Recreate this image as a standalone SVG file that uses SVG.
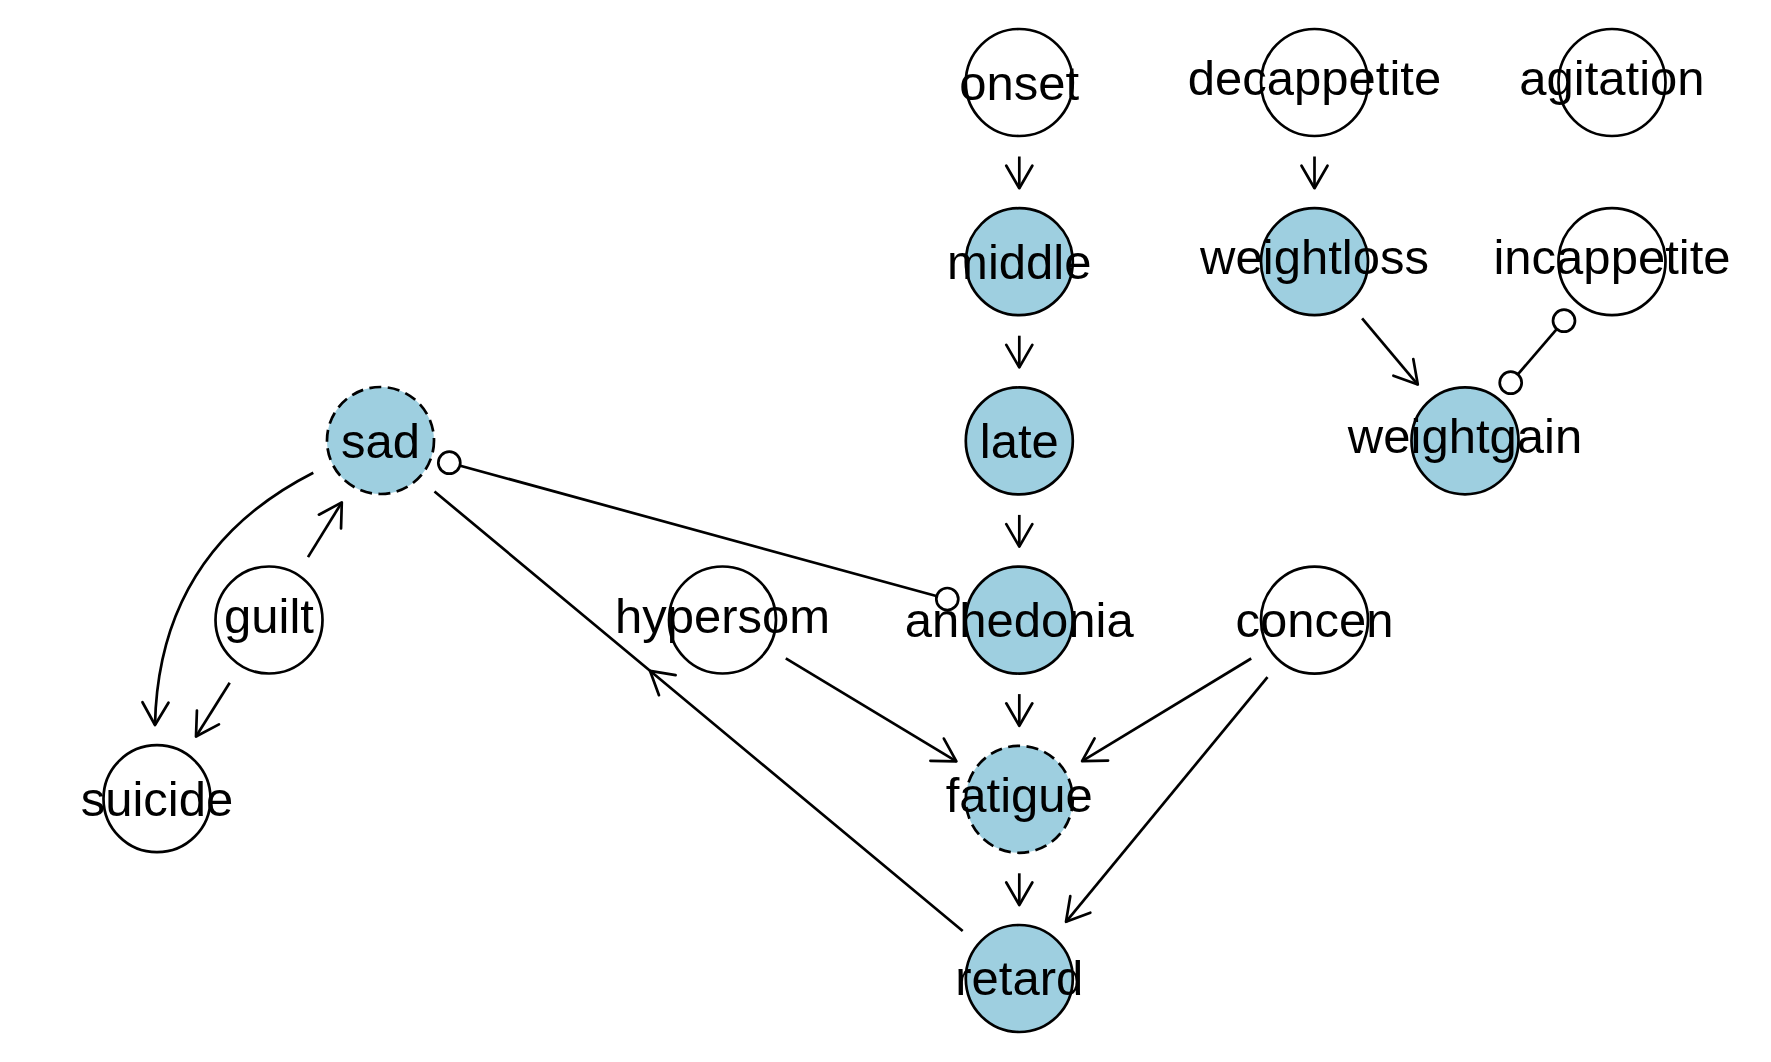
<svg xmlns="http://www.w3.org/2000/svg" width="1771" height="1062" viewBox="0 0 1771 1062">
<style>
.n circle{stroke:#000;stroke-width:2.7}
.obs{fill:#fff}
.lat{fill:#9ECFE0}
.dash{stroke-dasharray:12 6.5}
.n text{font-family:"Liberation Sans",Arial,sans-serif;font-size:49px;text-anchor:middle;fill:#000}
.e{fill:none;stroke:#000;stroke-width:2.7}
.a{marker-end:url(#arr)}
.o{fill:#fff;stroke:#000;stroke-width:2.7}
</style>
<defs>
<marker id="arr" markerUnits="userSpaceOnUse" markerWidth="60" markerHeight="60" viewBox="-30 -30 60 60" refX="0" refY="0" orient="auto" overflow="visible">
<path d="M -22.5 -13 L 0 0 L -22.5 13" fill="none" stroke="#000" stroke-width="2.7" stroke-linecap="round" stroke-linejoin="round"/>
</marker>
</defs>
<rect width="1771" height="1062" fill="#fff"/>
<g id="connectors">
<line class="e a" x1="1019.3" y1="156.5" x2="1019.3" y2="188.2"/>
<line class="e a" x1="1019.3" y1="335.7" x2="1019.3" y2="367.4"/>
<line class="e a" x1="1019.3" y1="514.9" x2="1019.3" y2="546.6"/>
<line class="e a" x1="1019.3" y1="694.1" x2="1019.3" y2="725.8"/>
<line class="e a" x1="1019.3" y1="873.3" x2="1019.3" y2="905"/>
<line class="e a" x1="1314.5" y1="156.5" x2="1314.5" y2="188.2"/>
<line class="e a" x1="1362.1" y1="318.3" x2="1417.8" y2="384.6"/>
<line class="e a" x1="308" y1="557.1" x2="341.8" y2="502.4"/>
<line class="e a" x1="229.7" y1="682.7" x2="196" y2="736.5"/>
<line class="e a" x1="785.8" y1="658.3" x2="956.4" y2="761.3"/>
<line class="e a" x1="1251.2" y1="658.5" x2="1082.1" y2="761.2"/>
<line class="e a" x1="1267.5" y1="677.2" x2="1066" y2="921.8"/>
<path class="e a" d="M 313.3 472.7 C 240 510, 158 580, 155 725"/>
<path class="e" d="M 962.7 931 L 650 670.8 L 434.5 491.5" marker-mid="url(#arr)"/>
<line class="e" x1="449.3" y1="462.7" x2="947.3" y2="599"/>
<circle class="o" cx="449.3" cy="462.7" r="11"/>
<circle class="o" cx="947.3" cy="599" r="11"/>
<line class="e" x1="1564" y1="320.7" x2="1510.7" y2="382.7"/>
<circle class="o" cx="1564" cy="320.7" r="11"/>
<circle class="o" cx="1510.7" cy="382.7" r="11"/>
</g>
<g id="onset" class="n"><circle class="obs" cx="1019.3" cy="82.5" r="53.5"/><text x="1019.3" y="99.5">onset</text></g>
<g id="decappetite" class="n"><circle class="obs" cx="1314.5" cy="82.5" r="53.5"/><text x="1314.5" y="95.2">decappetite</text></g>
<g id="agitation" class="n"><circle class="obs" cx="1612" cy="82.5" r="53.5"/><text x="1612" y="95.2">agitation</text></g>
<g id="middle" class="n"><circle class="lat" cx="1019.3" cy="261.7" r="53.5"/><text x="1019.3" y="278.5">middle</text></g>
<g id="weightloss" class="n"><circle class="lat" cx="1314.5" cy="261.7" r="53.5"/><text x="1314.5" y="274.4">weightloss</text></g>
<g id="incappetite" class="n"><circle class="obs" cx="1612" cy="261.7" r="53.5"/><text x="1612" y="274.4">incappetite</text></g>
<g id="late" class="n"><circle class="lat" cx="1019.3" cy="440.9" r="53.5"/><text x="1019.3" y="457.7">late</text></g>
<g id="sad" class="n"><circle class="lat dash" cx="380.5" cy="440.5" r="53.5"/><text x="380.5" y="457.8">sad</text></g>
<g id="weightgain" class="n"><circle class="lat" cx="1465" cy="440.8" r="53.5"/><text x="1465" y="453.4">weightgain</text></g>
<g id="guilt" class="n"><circle class="obs" cx="269" cy="620" r="53.5"/><text x="269" y="632.7">guilt</text></g>
<g id="hypersom" class="n"><circle class="obs" cx="722.5" cy="620" r="53.5"/><text x="722.5" y="632.7">hypersom</text></g>
<g id="anhedonia" class="n"><circle class="lat" cx="1019.3" cy="620.1" r="53.5"/><text x="1019.3" y="636.9">anhedonia</text></g>
<g id="concen" class="n"><circle class="obs" cx="1314.5" cy="620.1" r="53.5"/><text x="1314.5" y="636.9">concen</text></g>
<g id="suicide" class="n"><circle class="obs" cx="157" cy="798.7" r="53.5"/><text x="157" y="815.7">suicide</text></g>
<g id="fatigue" class="n"><circle class="lat dash" cx="1019.3" cy="799.3" r="53.5"/><text x="1019.3" y="812">fatigue</text></g>
<g id="retard" class="n"><circle class="lat" cx="1019.3" cy="978.5" r="53.5"/><text x="1019.3" y="995.3">retard</text></g>
</svg>
